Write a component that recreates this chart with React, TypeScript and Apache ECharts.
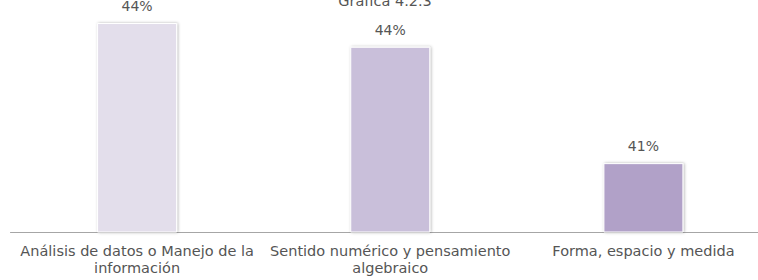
import React, { useEffect, useRef } from "react";
import * as echarts from "echarts";

const titleText = "Gráfica 4.2.3";
const categories = [
  "Análisis de datos o Manejo de la\ninformación",
  "Sentido numérico y pensamiento\nalgebraico",
  "Forma, espacio y medida",
];
const values = [44.4, 43.9, 41.45];
const barColors = ["#E3DEEB", "#C9BFDA", "#B1A1C8"];

const FONT = "'DejaVu Sans', sans-serif";

export default function App() {
  const ref = useRef<HTMLDivElement>(null);
  useEffect(() => {
    if (!ref.current) return;
    const chart = echarts.init(ref.current, null, { renderer: "svg" });
    chart.setOption({
      animation: false,
      backgroundColor: "#ffffff",
      title: {
        text: titleText,
        left: "center",
        top: -12,
        textStyle: { fontFamily: FONT, fontSize: 14.5, fontWeight: "normal", color: "#555555" },
      },
      grid: { left: 10.5, right: 0, top: 18.25, bottom: 48, containLabel: false },
      xAxis: {
        type: "category",
        data: categories,
        axisLine: { show: true, lineStyle: { color: "#A6A6A6", width: 1 } },
        axisTick: { show: false },
        axisLabel: {
          interval: 0,
          margin: 10,
          fontFamily: FONT,
          fontSize: 14.5,
          lineHeight: 17,
          color: "#555555",
        },
      },
      yAxis: {
        type: "value",
        min: 40,
        max: 44.5,
        show: false,
        splitLine: { show: false },
      },
      series: [
        {
          type: "bar",
          barWidth: 80,
          data: values.map((v, i) => ({
            value: v,
            itemStyle: {
              color: barColors[i],
              borderColor: "#ffffff",
              borderWidth: 1,
              shadowBlur: 3,
              shadowColor: "rgba(0,0,0,0.3)",
              shadowOffsetX: 1,
            },
          })),
          label: {
            show: true,
            position: "top",
            distance: 10,
            fontFamily: FONT,
            fontSize: 14,
            color: "#555555",
            formatter: (p: any) => Math.round(p.value) + "%",
          },
        },
      ],
    });
    return () => chart.dispose();
  }, []);
  return (
    <div style={{ position: "absolute", left: 0, top: 0, width: 758, height: 280, overflow: "hidden", background: "#fff" }}>
      <div ref={ref} style={{ width: 770, height: 280 }} />
    </div>
  );
}
